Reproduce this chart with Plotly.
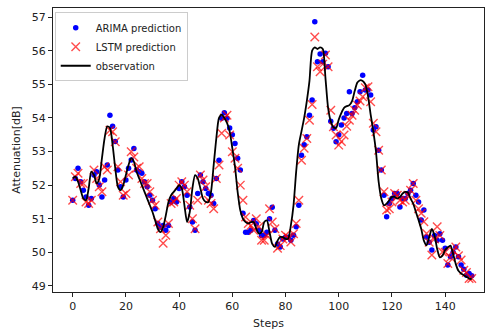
import plotly.graph_objects as go

steps = list(range(151))

observation = [
    52.2, 52.25, 52.1, 51.85, 51.6, 51.55, 51.9, 52.4, 52.3, 52.05,
    52.2, 52.8, 53.4, 53.75, 53.7, 53.2, 52.5, 51.95, 51.85, 52.0,
    52.3, 52.6, 52.8, 52.7, 52.4, 52.2, 52.0, 51.8, 51.6, 51.4,
    51.2, 50.95, 50.7, 50.6, 50.75, 51.1, 51.5, 51.7, 51.8, 51.9,
    52.0, 51.9, 51.4, 50.9, 51.2, 51.9, 52.3, 52.2, 51.9, 51.6,
    51.5, 51.5, 51.8, 52.6, 53.4, 54.0, 54.1, 54.0, 53.85, 53.6,
    53.1, 52.55, 51.8, 51.25, 51.0, 50.9, 50.86, 50.9, 50.9, 50.7,
    50.56, 50.6, 50.9, 50.95, 50.6, 50.25, 50.16, 50.35, 50.46, 50.45,
    50.4, 50.41, 50.8, 51.4, 52.4, 53.2, 53.6, 54.0, 54.5, 55.1,
    56.0, 56.1, 56.05, 56.1, 56.05, 55.2, 54.3, 53.9, 53.72, 53.7,
    53.95, 54.15, 54.3, 54.35, 54.38, 54.5, 54.8, 55.05, 55.12, 55.1,
    55.0, 54.65, 54.1, 53.6, 53.0, 52.1, 51.6, 51.4, 51.45, 51.55,
    51.65, 51.65, 51.6, 51.65, 51.75, 51.8, 51.78, 51.6, 51.45, 51.2,
    50.96, 50.7, 50.35, 50.21, 50.45, 50.7, 50.5, 50.1, 49.85, 49.9,
    50.07, 50.15, 50.2, 49.95, 49.65, 49.45, 49.37, 49.32, 49.27, 49.22,
    49.2,
]

arima = [
    51.55, 52.2, 52.5, 52.1, 51.85, 51.65, 51.4, 51.6, 52.3, 52.4,
    52.0, 51.65, 52.15, 52.6, 54.08, 53.75, 53.3, 52.45, 51.95, 51.65,
    52.15, 52.5, 52.75, 53.09, 52.45, 52.4, 52.35, 52.1, 51.95, 51.7,
    51.55, 51.3, 50.86, 50.75, 50.8, 50.66, 50.8, 51.5, 51.6, 51.5,
    51.9, 52.1, 51.95, 51.7, 51.35, 50.9, 50.66, 51.75, 52.3, 52.1,
    51.9, 51.75, 51.7, 51.45, 52.2, 52.74, 53.99, 54.15, 53.99, 53.7,
    53.5, 53.24, 52.8, 52.45, 51.16, 50.6, 50.6, 50.66, 50.95, 50.85,
    50.66, 50.5, 50.51, 50.6, 51.0, 51.34, 50.66, 50.25, 50.16, 50.4,
    50.45, 50.45, 50.36, 50.51, 50.76, 51.4, 52.89, 53.2, 53.44, 54.08,
    54.53, 56.86, 55.67, 55.9, 55.67, 55.92, 55.52, 53.9, 53.69, 53.29,
    53.5, 53.79, 54.0, 54.13, 54.78, 54.13, 54.3, 54.48, 54.78, 55.27,
    54.83, 54.83, 54.68, 53.64, 53.74, 53.04, 52.45, 51.7, 51.06, 51.45,
    51.6, 51.75, 51.75, 51.35, 51.6, 51.6, 51.75, 51.85, 52.05, 51.7,
    51.5, 50.96, 51.26, 50.46, 50.3, 50.07, 50.5, 50.36, 50.55, 50.36,
    50.12, 49.62, 49.87, 50.0, 50.16, 49.87, 49.62, 49.5, 49.32, 49.37,
    49.3,
]

lstm = [
    51.55, 52.25, 52.35, 52.05, 52.05, 51.5, 51.45, 51.55, 52.45, 52.2,
    51.95, 51.8, 52.55, 52.45, 53.63, 53.59, 53.29, 52.55, 52.1, 51.7,
    51.75, 52.3, 52.99, 52.84, 52.5, 52.55, 52.2, 52.05, 52.05, 51.8,
    51.55, 51.4, 50.9, 50.7, 50.27, 50.51, 50.86, 51.45, 51.5, 51.6,
    52.0, 52.1, 52.0, 51.8, 51.4, 51.0, 50.7, 51.55, 52.3, 52.15,
    51.95, 51.55, 51.45, 51.3, 52.2, 52.6, 53.54, 54.0, 54.08, 53.49,
    52.99, 52.8, 52.5, 52.0, 51.55, 51.05, 50.86, 50.8, 50.66, 51.0,
    50.76, 50.36, 50.36, 50.5, 51.3, 50.9, 50.7, 50.12, 50.2, 50.4,
    50.51, 50.45, 50.31, 50.55, 50.86, 51.55, 52.74, 53.1, 53.39, 53.93,
    54.4, 56.41, 55.52, 55.37, 55.6, 55.87, 55.52, 54.23, 53.74, 53.49,
    53.19, 53.3, 53.49, 53.75, 53.93, 54.08, 54.23, 54.38, 54.5, 54.63,
    54.9, 54.93, 54.48, 53.84, 53.59, 53.04, 52.45, 51.8, 51.26, 51.3,
    51.5, 51.75, 51.7, 51.55, 51.5, 51.55, 51.7, 51.85, 52.05, 51.55,
    51.3, 51.16, 50.91, 50.56, 50.3, 49.92, 50.4, 50.76, 50.5, 50.01,
    50.0, 49.67, 49.85, 50.05, 50.16, 49.9, 49.77, 49.47, 49.4, 49.22,
    49.22,
]

x_ticks = [0, 20, 40, 60, 80, 100, 120, 140]
y_ticks = [49, 50, 51, 52, 53, 54, 55, 56, 57]

font_family = "DejaVu Sans, Arial, sans-serif"

fig = go.Figure()
fig.add_trace(go.Scatter(
    x=steps, y=arima, mode="markers", name="ARIMA prediction",
    marker=dict(color="#0000ff", size=5.5, line=dict(width=0)),
))
fig.add_trace(go.Scatter(
    x=steps, y=lstm, mode="markers", name="LSTM prediction",
    marker=dict(symbol="x-thin", size=8.5, color="rgba(255,0,0,0.7)",
                line=dict(width=1.4, color="rgba(255,0,0,0.7)")),
))
fig.add_trace(go.Scatter(
    x=steps, y=observation, mode="lines", name="observation",
    line=dict(color="black", width=1.8, shape="spline", smoothing=0.7),
))

axis_common = dict(
    showline=True, linecolor="#222", linewidth=1, mirror=True,
    ticks="outside", ticklen=4, tickwidth=1, tickcolor="#222",
    showgrid=False, zeroline=False, automargin=False,
    tickfont=dict(size=11, color="#222", family=font_family),
)

fig.update_layout(
    width=487, height=332,
    margin=dict(l=53, r=3, t=8, b=40),
    paper_bgcolor="white", plot_bgcolor="white",
    font=dict(family=font_family, color="#222"),
    showlegend=True,
    legend=dict(
        x=0.004, y=0.985, xanchor="left", yanchor="top",
        bgcolor="rgba(255,255,255,0.85)", bordercolor="#cccccc", borderwidth=1,
        font=dict(size=10, color="#222", family=font_family),
        tracegroupgap=0, itemwidth=30,
    ),
    xaxis=dict(
        range=[-7.4, 154.6], tickmode="array", tickvals=x_ticks,
        title=dict(text="Steps", font=dict(size=11, family=font_family), standoff=7),
        **axis_common,
    ),
    yaxis=dict(
        range=[48.82, 57.27], tickmode="array", tickvals=y_ticks,
        title=dict(text="Attenuation[dB]", font=dict(size=11, family=font_family), standoff=8),
        **axis_common,
    ),
)

fig.write_html("out.html", post_script="document.body.style.margin='0';",
               config={"displayModeBar": False})
